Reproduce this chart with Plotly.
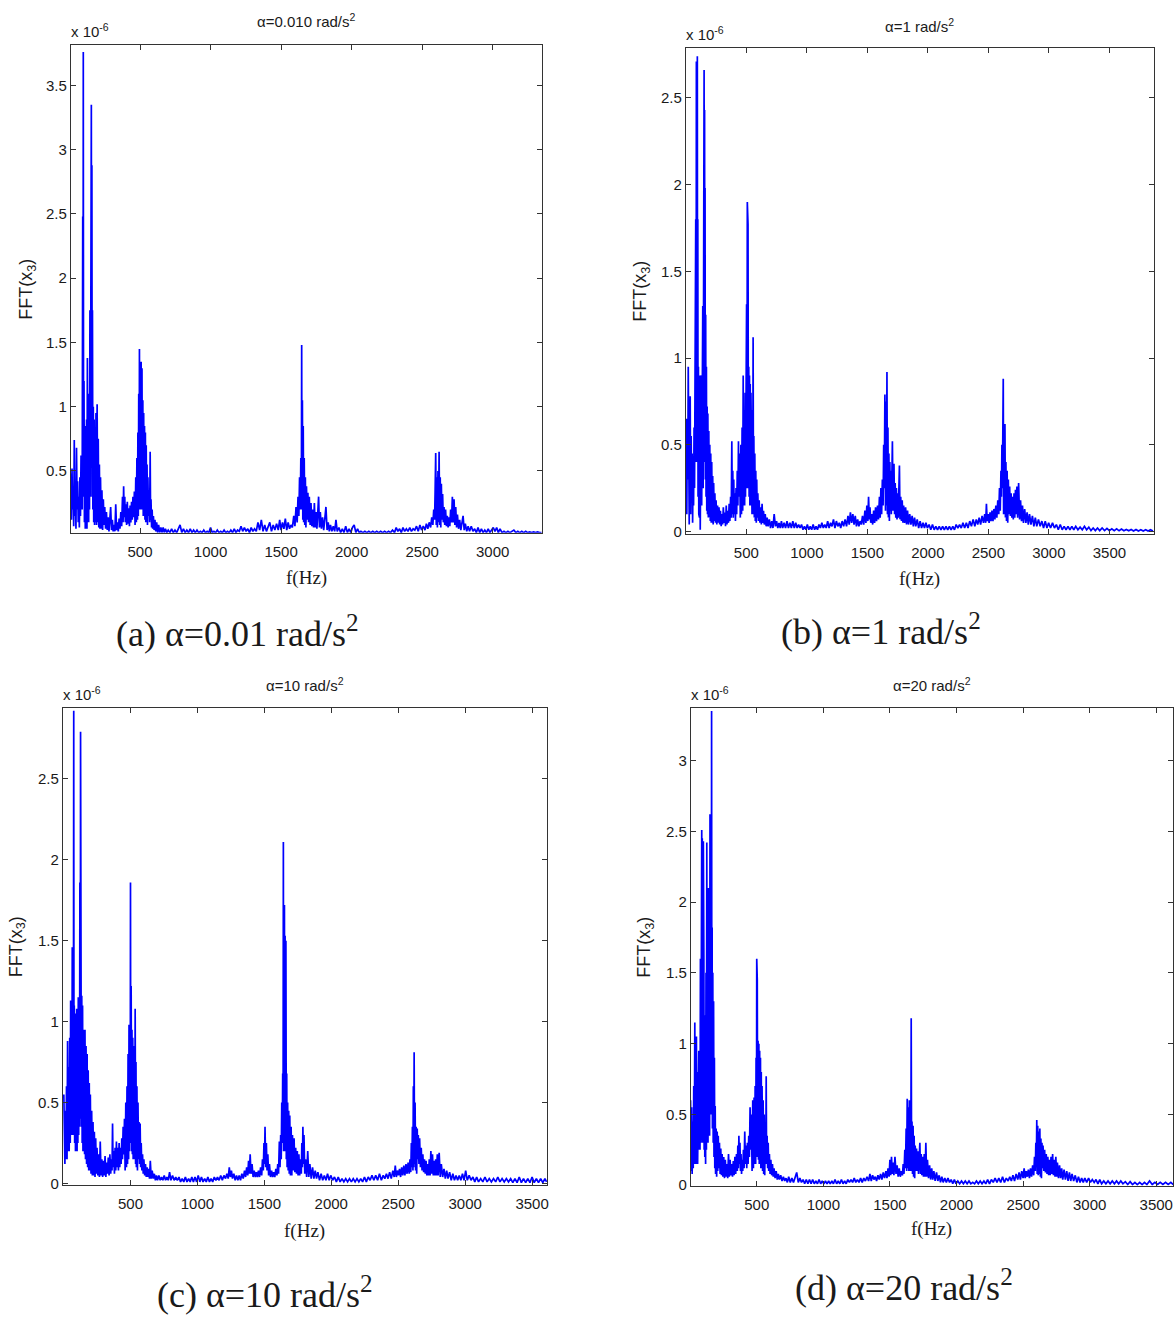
import plotly.graph_objects as go

W, H = 1176, 1324

# ---------------------------------------------------------------
# FFT amplitude spectra of x3 (values in units of 1e-6)
# ---------------------------------------------------------------

# (a) alpha = 0.01 rad/s^2
FREQ_A = [
    10, 14, 18, 22, 26, 30, 34, 38, 42, 46,
    50, 54, 58, 62, 66, 70, 74, 78, 82, 85,
    88, 90, 92, 94, 96, 98, 100, 103, 106, 109,
    112, 115, 118, 121, 124, 127, 130, 133, 136, 139,
    142, 145, 148, 151, 153, 155, 157, 159, 161, 163,
    166, 169, 172, 175, 178, 181, 184, 188, 192, 196,
    200, 204, 208, 212, 216, 220, 225, 230, 235, 240,
    245, 250, 256, 262, 268, 274, 280, 286, 292, 298,
    304, 310, 316, 322, 328, 334, 340, 346, 352, 358,
    364, 370, 376, 380, 384, 388, 392, 396, 400, 405,
    410, 415, 420, 425, 430, 435, 440, 445, 450, 455,
    460, 465, 470, 474, 478, 482, 485, 488, 491, 494,
    496, 499, 502, 505, 508, 511, 514, 517, 520, 523,
    526, 529, 532, 535, 538, 541, 544, 547, 550, 553,
    556, 560, 564, 568, 572, 575, 578, 582, 586, 590,
    595, 600, 606, 612, 618, 625, 632, 640, 648, 656,
    664, 672, 680, 690, 700, 712, 724, 736, 748, 760,
    772, 784, 796, 808, 820, 832, 844, 856, 868, 880,
    892, 904, 916, 928, 940, 952, 964, 976, 988, 1000,
    1012, 1024, 1036, 1048, 1060, 1072, 1084, 1096, 1108, 1120,
    1132, 1144, 1156, 1168, 1180, 1192, 1204, 1216, 1228, 1240,
    1252, 1264, 1276, 1288, 1300, 1312, 1324, 1336, 1348, 1360,
    1372, 1384, 1396, 1408, 1420, 1432, 1444, 1456, 1468, 1480,
    1490, 1500, 1510, 1520, 1530, 1540, 1550, 1560, 1570, 1580,
    1590, 1598, 1606, 1614, 1620, 1626, 1631, 1636, 1640, 1644,
    1646, 1648, 1651, 1654, 1657, 1660, 1664, 1668, 1672, 1676,
    1680, 1685, 1690, 1695, 1700, 1706, 1712, 1718, 1724, 1730,
    1736, 1742, 1748, 1754, 1760, 1766, 1772, 1778, 1786, 1794,
    1802, 1810, 1818, 1826, 1834, 1842, 1850, 1860, 1870, 1880,
    1889, 1898, 1910, 1922, 1934, 1946, 1958, 1970, 1982, 1994,
    2006, 2018, 2030, 2042, 2054, 2066, 2080, 2094, 2108, 2122,
    2136, 2150, 2164, 2178, 2192, 2206, 2220, 2234, 2248, 2262,
    2276, 2290, 2304, 2316, 2328, 2340, 2352, 2364, 2376, 2388,
    2400, 2412, 2424, 2436, 2448, 2460, 2472, 2484, 2496, 2508,
    2520, 2530, 2540, 2550, 2560, 2568, 2576, 2582, 2588, 2592,
    2596, 2600, 2604, 2608, 2612, 2616, 2620, 2624, 2628, 2632,
    2636, 2640, 2645, 2650, 2655, 2660, 2666, 2672, 2678, 2684,
    2690, 2696, 2702, 2708, 2714, 2720, 2726, 2732, 2738, 2744,
    2750, 2758, 2766, 2774, 2782, 2790, 2798, 2806, 2816, 2826,
    2836, 2848, 2860, 2872, 2884, 2896, 2908, 2920, 2932, 2944,
    2956, 2968, 2980, 2992, 3004, 3016, 3028, 3040, 3052, 3066,
    3080, 3094, 3108, 3122, 3136, 3150, 3164, 3178, 3192, 3206,
    3220, 3234, 3248, 3262, 3276, 3290, 3304, 3318, 3332, 3346,
]
FFT_A = [
    0.48, 0.12, 0.52, 0.2, 0.36, 0.07, 0.74, 0.15, 0.32, 0.05,
    0.68, 0.2, 0.42, 0.1, 0.3, 0.06, 0.45, 0.15, 0.62, 0.25,
    1.42, 0.2, 1.75, 2.48, 0.4, 3.76, 0.3, 1.2, 0.1, 0.85,
    0.05, 0.75, 0.1, 0.9, 0.05, 1.38, 0.15, 0.95, 0.1, 1.1,
    0.2, 1.75, 0.3, 2.3, 0.5, 3.35, 0.6, 2.88, 0.3, 1.75,
    0.2, 1.0, 0.1, 0.9, 0.08, 0.8, 0.1, 0.95, 0.08, 1.02,
    0.1, 0.75, 0.06, 0.55, 0.05, 0.45, 0.05, 0.35, 0.04, 0.28,
    0.08, 0.22, 0.05, 0.18, 0.04, 0.14, 0.03, 0.1, 0.22, 0.04,
    0.12, 0.03, 0.08, 0.03, 0.24, 0.04, 0.1, 0.03, 0.13, 0.05,
    0.18, 0.07, 0.3, 0.1, 0.38, 0.14, 0.3, 0.1, 0.24, 0.08,
    0.26, 0.09, 0.21, 0.07, 0.23, 0.1, 0.26, 0.12, 0.3, 0.14,
    0.34, 0.08, 0.45, 0.1, 0.6, 0.12, 0.8, 0.15, 1.1, 0.2,
    1.45, 0.25, 1.05, 0.2, 1.35, 0.3, 1.3, 0.2, 1.05, 0.15,
    0.95, 0.15, 0.85, 0.12, 0.8, 0.1, 0.7, 0.1, 0.55, 0.08,
    0.45, 0.15, 0.35, 0.1, 0.65, 0.12, 0.28, 0.06, 0.2, 0.05,
    0.15, 0.04, 0.12, 0.03, 0.1, 0.02, 0.08, 0.02, 0.06, 0.02,
    0.06, 0.02, 0.05, 0.02, 0.04, 0.02, 0.05, 0.02, 0.04, 0.02,
    0.05, 0.08, 0.02, 0.05, 0.02, 0.04, 0.02, 0.05, 0.02, 0.04,
    0.02, 0.04, 0.02, 0.03, 0.02, 0.04, 0.02, 0.03, 0.02, 0.06,
    0.02, 0.03, 0.02, 0.04, 0.02, 0.03, 0.02, 0.04, 0.02, 0.03,
    0.02, 0.04, 0.02, 0.05, 0.02, 0.04, 0.03, 0.07, 0.03, 0.06,
    0.03, 0.05, 0.02, 0.06, 0.03, 0.05, 0.03, 0.1, 0.04, 0.12,
    0.03, 0.08, 0.03, 0.06, 0.1, 0.03, 0.08, 0.04, 0.09, 0.04,
    0.12, 0.04, 0.1, 0.05, 0.13, 0.04, 0.1, 0.05, 0.08, 0.06,
    0.15, 0.07, 0.22, 0.1, 0.3, 0.15, 0.45, 0.2, 0.6, 0.35,
    1.48, 0.2, 1.05, 0.12, 0.85, 0.1, 0.6, 0.08, 0.45, 0.06,
    0.38, 0.12, 0.33, 0.1, 0.3, 0.08, 0.25, 0.07, 0.2, 0.06,
    0.25, 0.06, 0.18, 0.05, 0.22, 0.3, 0.06, 0.18, 0.05, 0.14,
    0.04, 0.12, 0.22, 0.04, 0.1, 0.03, 0.08, 0.03, 0.07, 0.03,
    0.12, 0.03, 0.06, 0.02, 0.05, 0.02, 0.07, 0.02, 0.05, 0.02,
    0.06, 0.08, 0.02, 0.05, 0.02, 0.03, 0.02, 0.03, 0.02, 0.03,
    0.02, 0.03, 0.02, 0.03, 0.02, 0.03, 0.02, 0.03, 0.02, 0.03,
    0.02, 0.04, 0.02, 0.06, 0.03, 0.05, 0.02, 0.06, 0.03, 0.05,
    0.03, 0.06, 0.03, 0.05, 0.04, 0.07, 0.03, 0.08, 0.04, 0.07,
    0.04, 0.09, 0.05, 0.1, 0.06, 0.14, 0.08, 0.2, 0.12, 0.35,
    0.64, 0.08, 0.45, 0.06, 0.5, 0.1, 0.65, 0.08, 0.45, 0.06,
    0.4, 0.12, 0.32, 0.1, 0.22, 0.08, 0.2, 0.07, 0.15, 0.06,
    0.14, 0.07, 0.2, 0.1, 0.3, 0.1, 0.28, 0.08, 0.22, 0.06,
    0.16, 0.05, 0.12, 0.04, 0.1, 0.15, 0.04, 0.09, 0.03, 0.07,
    0.03, 0.07, 0.03, 0.05, 0.02, 0.06, 0.02, 0.05, 0.02, 0.04,
    0.02, 0.05, 0.02, 0.04, 0.06, 0.03, 0.06, 0.02, 0.05, 0.02,
    0.03, 0.02, 0.03, 0.02, 0.03, 0.04, 0.02, 0.03, 0.02, 0.03,
    0.02, 0.03, 0.02, 0.025, 0.02, 0.025, 0.02, 0.025, 0.02, 0.02,
]

# (b) alpha = 1 rad/s^2
FREQ_B = [
    4, 8, 12, 16, 20, 24, 28, 32, 36, 40,
    44, 48, 52, 56, 60, 64, 68, 72, 76, 79,
    82, 85, 87, 89, 91, 93, 95, 97, 99, 101,
    104, 107, 110, 113, 116, 119, 122, 125, 128, 131,
    134, 137, 140, 143, 146, 149, 151, 153, 155, 157,
    159, 161, 164, 167, 170, 173, 176, 179, 182, 186,
    190, 194, 198, 202, 206, 210, 214, 218, 222, 226,
    230, 235, 240, 245, 250, 256, 262, 268, 274, 280,
    286, 292, 298, 304, 310, 316, 322, 328, 334, 340,
    346, 352, 358, 364, 370, 375, 380, 384, 388, 392,
    396, 400, 405, 410, 415, 420, 425, 430, 435, 440,
    445, 450, 455, 460, 465, 470, 474, 478, 482, 486,
    490, 493, 496, 499, 502, 505, 508, 511, 514, 517,
    520, 523, 526, 529, 532, 535, 538, 541, 544, 547,
    550, 553, 556, 559, 562, 566, 570, 574, 578, 582,
    586, 590, 595, 600, 606, 612, 618, 624, 630, 636,
    642, 648, 656, 664, 672, 680, 690, 700, 710, 720,
    730, 740, 750, 760, 770, 780, 790, 800, 812, 824,
    836, 848, 860, 872, 884, 896, 908, 920, 932, 944,
    956, 968, 980, 992, 1004, 1016, 1028, 1040, 1052, 1064,
    1076, 1088, 1100, 1112, 1124, 1136, 1148, 1160, 1172, 1184,
    1196, 1208, 1220, 1232, 1244, 1256, 1268, 1280, 1292, 1304,
    1316, 1328, 1340, 1350, 1360, 1370, 1380, 1390, 1400, 1410,
    1420, 1430, 1440, 1450, 1460, 1470, 1480, 1488, 1496, 1504,
    1510, 1516, 1522, 1528, 1536, 1544, 1552, 1560, 1568, 1576,
    1584, 1592, 1600, 1606, 1612, 1618, 1624, 1630, 1635, 1640,
    1645, 1650, 1654, 1658, 1662, 1666, 1670, 1674, 1678, 1682,
    1686, 1690, 1694, 1698, 1702, 1707, 1712, 1716, 1720, 1725,
    1730, 1735, 1740, 1745, 1750, 1755, 1760, 1765, 1770, 1776,
    1782, 1788, 1794, 1800, 1808, 1816, 1824, 1832, 1840, 1850,
    1860, 1870, 1880, 1890, 1900, 1912, 1924, 1936, 1948, 1960,
    1972, 1984, 1996, 2010, 2024, 2038, 2052, 2066, 2080, 2094,
    2108, 2122, 2136, 2150, 2164, 2178, 2192, 2206, 2220, 2234,
    2248, 2262, 2276, 2290, 2304, 2318, 2332, 2346, 2360, 2374,
    2388, 2400, 2412, 2424, 2436, 2448, 2460, 2470, 2478, 2484,
    2490, 2498, 2506, 2514, 2522, 2530, 2538, 2546, 2554, 2562,
    2570, 2578, 2586, 2592, 2598, 2604, 2608, 2612, 2616, 2620,
    2623, 2626, 2630, 2634, 2637, 2641, 2645, 2650, 2655, 2660,
    2665, 2670, 2676, 2682, 2688, 2694, 2700, 2706, 2712, 2718,
    2724, 2730, 2736, 2742, 2750, 2758, 2766, 2774, 2782, 2790,
    2800, 2810, 2820, 2830, 2840, 2852, 2864, 2876, 2888, 2900,
    2914, 2928, 2942, 2956, 2970, 2984, 2998, 3014, 3030, 3046,
    3062, 3078, 3094, 3110, 3126, 3142, 3158, 3174, 3190, 3206,
    3222, 3240, 3258, 3276, 3294, 3312, 3330, 3348, 3366, 3384,
    3402, 3420, 3440, 3460, 3480, 3500, 3520, 3540, 3560, 3580,
    3600, 3620, 3640, 3660, 3680, 3700, 3720, 3740, 3760, 3780,
    3800, 3820, 3840, 3860,
]
FFT_B = [
    0.65, 0.1, 0.6, 0.3, 0.95, 0.15, 0.04, 0.5, 0.78, 0.1,
    0.55, 0.2, 0.45, 0.05, 0.35, 0.15, 0.6, 0.25, 0.88, 0.4,
    1.8, 0.4, 2.71, 0.6, 2.62, 0.8, 2.74, 0.4, 1.8, 0.2,
    0.95, 0.1, 0.85, 0.08, 0.9, 0.01, 0.7, 0.1, 0.9, 0.15,
    1.25, 0.2, 1.3, 0.25, 1.8, 0.4, 2.66, 0.5, 2.43, 0.4,
    1.98, 0.3, 1.25, 0.2, 0.95, 0.12, 0.72, 0.1, 0.68, 0.08,
    0.58, 0.08, 0.5, 0.06, 0.45, 0.05, 0.4, 0.05, 0.32, 0.04,
    0.28, 0.06, 0.22, 0.05, 0.18, 0.04, 0.15, 0.05, 0.14, 0.04,
    0.12, 0.03, 0.1, 0.04, 0.14, 0.05, 0.11, 0.03, 0.15, 0.04,
    0.12, 0.05, 0.16, 0.06, 0.2, 0.08, 0.52, 0.1, 0.35, 0.08,
    0.3, 0.1, 0.22, 0.06, 0.25, 0.1, 0.35, 0.15, 0.52, 0.2,
    0.45, 0.08, 0.5, 0.1, 0.6, 0.12, 0.9, 0.15, 0.7, 0.15,
    0.8, 0.2, 0.95, 0.2, 1.31, 0.25, 1.9, 0.3, 1.77, 0.25,
    0.95, 0.2, 0.9, 0.15, 0.85, 0.15, 0.8, 0.12, 0.75, 0.1,
    0.7, 0.1, 1.12, 0.1, 0.55, 0.08, 0.45, 0.06, 0.35, 0.05,
    0.3, 0.08, 0.22, 0.06, 0.18, 0.05, 0.14, 0.04, 0.16, 0.05,
    0.12, 0.04, 0.1, 0.03, 0.08, 0.03, 0.07, 0.02, 0.06, 0.02,
    0.1, 0.03, 0.06, 0.02, 0.05, 0.02, 0.06, 0.02, 0.05, 0.02,
    0.06, 0.02, 0.05, 0.02, 0.06, 0.02, 0.05, 0.02, 0.04, 0.02,
    0.04, 0.01, 0.03, 0.01, 0.04, 0.01, 0.03, 0.01, 0.04, 0.01,
    0.03, 0.01, 0.04, 0.02, 0.05, 0.02, 0.04, 0.02, 0.06, 0.02,
    0.05, 0.03, 0.07, 0.02, 0.06, 0.03, 0.05, 0.02, 0.06, 0.03,
    0.07, 0.03, 0.09, 0.04, 0.11, 0.05, 0.1, 0.04, 0.09, 0.03,
    0.07, 0.03, 0.06, 0.04, 0.09, 0.04, 0.12, 0.05, 0.15, 0.06,
    0.2, 0.07, 0.14, 0.05, 0.1, 0.04, 0.12, 0.05, 0.14, 0.06,
    0.15, 0.07, 0.2, 0.08, 0.25, 0.1, 0.3, 0.15, 0.5, 0.25,
    0.79, 0.12, 0.75, 0.15, 0.92, 0.1, 0.6, 0.08, 0.45, 0.06,
    0.4, 0.12, 0.35, 0.1, 0.3, 0.52, 0.12, 0.28, 0.39, 0.1,
    0.28, 0.08, 0.25, 0.07, 0.22, 0.08, 0.2, 0.38, 0.07, 0.2,
    0.06, 0.18, 0.05, 0.15, 0.05, 0.14, 0.04, 0.12, 0.04, 0.1,
    0.04, 0.09, 0.03, 0.08, 0.03, 0.07, 0.02, 0.06, 0.02, 0.05,
    0.02, 0.05, 0.02, 0.04, 0.01, 0.04, 0.01, 0.03, 0.01, 0.03,
    0.01, 0.03, 0.01, 0.03, 0.01, 0.03, 0.01, 0.03, 0.01, 0.04,
    0.02, 0.04, 0.02, 0.05, 0.02, 0.05, 0.02, 0.06, 0.03, 0.07,
    0.03, 0.07, 0.04, 0.08, 0.04, 0.09, 0.05, 0.1, 0.05, 0.16,
    0.06, 0.1, 0.05, 0.11, 0.06, 0.12, 0.06, 0.13, 0.07, 0.15,
    0.08, 0.18, 0.1, 0.25, 0.12, 0.35, 0.2, 0.5, 0.25, 0.79,
    0.88, 0.1, 0.45, 0.1, 0.62, 0.08, 0.4, 0.06, 0.35, 0.05,
    0.3, 0.1, 0.26, 0.09, 0.22, 0.08, 0.2, 0.07, 0.22, 0.08,
    0.24, 0.1, 0.26, 0.08, 0.28, 0.07, 0.18, 0.06, 0.15, 0.05,
    0.13, 0.05, 0.11, 0.04, 0.1, 0.04, 0.09, 0.03, 0.08, 0.03,
    0.07, 0.03, 0.06, 0.02, 0.06, 0.02, 0.05, 0.02, 0.05, 0.02,
    0.04, 0.01, 0.04, 0.01, 0.03, 0.01, 0.03, 0.01, 0.03, 0.01,
    0.03, 0.01, 0.025, 0.01, 0.03, 0.01, 0.025, 0.005, 0.02, 0.005,
    0.02, 0.005, 0.02, 0.005, 0.018, 0.005, 0.015, 0.005, 0.015, 0.004,
    0.014, 0.004, 0.012, 0.004, 0.012, 0.003, 0.012, 0.003, 0.01, 0.003,
    0.01, 0.003, 0.01, 0.003,
]

# (c) alpha = 10 rad/s^2
FREQ_C = [
    2, 6, 10, 14, 18, 22, 26, 30, 34, 38,
    42, 46, 50, 53, 56, 59, 62, 65, 68, 70,
    72, 74, 76, 78, 80, 83, 86, 89, 92, 95,
    98, 101, 104, 107, 110, 113, 116, 119, 122, 125,
    127, 129, 131, 133, 136, 139, 142, 145, 148, 151,
    154, 157, 160, 164, 168, 172, 176, 180, 184, 188,
    192, 196, 200, 205, 210, 215, 220, 225, 230, 235,
    240, 245, 250, 256, 262, 268, 274, 280, 286, 292,
    298, 304, 310, 316, 322, 328, 334, 340, 346, 352,
    358, 362, 366, 370, 375, 380, 385, 390, 395, 400,
    405, 410, 415, 420, 425, 430, 435, 440, 445, 450,
    455, 460, 465, 470, 474, 478, 482, 486, 489, 492,
    495, 498, 500, 502, 505, 508, 511, 514, 517, 520,
    523, 526, 529, 532, 535, 538, 541, 544, 548, 552,
    556, 560, 564, 568, 572, 576, 580, 585, 590, 595,
    600, 606, 612, 618, 624, 630, 636, 642, 648, 655,
    662, 670, 678, 686, 694, 702, 712, 722, 732, 742,
    752, 762, 772, 782, 792, 802, 814, 826, 838, 850,
    862, 874, 886, 898, 910, 922, 934, 946, 958, 970,
    982, 994, 1006, 1018, 1030, 1042, 1054, 1066, 1078, 1090,
    1102, 1114, 1126, 1138, 1150, 1162, 1174, 1186, 1198, 1210,
    1220, 1230, 1238, 1246, 1254, 1262, 1272, 1282, 1292, 1302,
    1312, 1322, 1332, 1342, 1352, 1360, 1368, 1376, 1382, 1388,
    1394, 1400, 1408, 1416, 1424, 1432, 1440, 1448, 1456, 1464,
    1472, 1480, 1486, 1492, 1497, 1501, 1505, 1510, 1515, 1520,
    1526, 1532, 1538, 1546, 1554, 1562, 1570, 1578, 1586, 1594,
    1600, 1606, 1612, 1617, 1622, 1626, 1630, 1634, 1637, 1640,
    1642, 1644, 1646, 1648, 1650, 1652, 1655, 1658, 1661, 1664,
    1667, 1670, 1674, 1678, 1682, 1686, 1690, 1695, 1700, 1705,
    1710, 1716, 1722, 1728, 1734, 1740, 1746, 1752, 1758, 1764,
    1770, 1776, 1780, 1784, 1788, 1792, 1796, 1802, 1808, 1816,
    1824, 1832, 1840, 1850, 1860, 1870, 1880, 1890, 1900, 1912,
    1924, 1936, 1948, 1960, 1972, 1984, 1996, 2010, 2024, 2038,
    2052, 2066, 2080, 2094, 2108, 2122, 2136, 2150, 2164, 2178,
    2192, 2206, 2220, 2234, 2248, 2262, 2276, 2290, 2304, 2318,
    2332, 2346, 2360, 2374, 2388, 2400, 2412, 2424, 2436, 2448,
    2460, 2470, 2478, 2486, 2494, 2502, 2510, 2518, 2526, 2534,
    2542, 2550, 2558, 2566, 2574, 2582, 2588, 2594, 2598, 2602,
    2606, 2610, 2613, 2616, 2619, 2622, 2626, 2630, 2634, 2638,
    2642, 2646, 2650, 2655, 2660, 2666, 2672, 2678, 2684, 2690,
    2696, 2702, 2708, 2714, 2720, 2726, 2732, 2738, 2744, 2750,
    2756, 2762, 2768, 2774, 2780, 2786, 2792, 2798, 2806, 2814,
    2822, 2832, 2842, 2852, 2862, 2872, 2884, 2896, 2908, 2920,
    2932, 2944, 2956, 2968, 2980, 2992, 3004, 3016, 3030, 3044,
    3058, 3072, 3086, 3100, 3116, 3132, 3148, 3164, 3180, 3196,
    3212, 3228, 3244, 3260, 3276, 3292, 3308, 3324, 3340, 3356,
    3372, 3388, 3404, 3420, 3436, 3452, 3468, 3484, 3500, 3516,
    3532, 3548, 3564, 3580, 3596, 3608,
]
FFT_C = [
    0.55, 0.15, 0.12, 0.45, 0.15, 0.6, 0.15, 0.88, 0.2, 0.72,
    0.2, 0.9, 0.25, 1.13, 0.3, 1.05, 0.3, 1.46, 0.35, 1.1,
    0.3, 1.05, 2.92, 0.4, 1.1, 0.25, 1.05, 0.2, 0.95, 0.25,
    1.08, 0.2, 1.0, 0.25, 1.15, 0.3, 1.1, 0.35, 1.86, 0.4,
    2.79, 0.45, 2.58, 0.35, 1.16, 0.25, 1.1, 0.2, 0.95, 0.2,
    0.9, 0.18, 0.95, 0.15, 0.85, 0.12, 0.8, 0.1, 0.7, 0.08,
    0.62, 0.08, 0.55, 0.06, 0.45, 0.05, 0.38, 0.05, 0.32, 0.04,
    0.28, 0.06, 0.22, 0.05, 0.18, 0.04, 0.26, 0.05, 0.15, 0.04,
    0.14, 0.05, 0.17, 0.04, 0.13, 0.06, 0.16, 0.05, 0.18, 0.06,
    0.15, 0.08, 0.37, 0.1, 0.2, 0.06, 0.22, 0.08, 0.26, 0.1,
    0.22, 0.08, 0.25, 0.1, 0.22, 0.12, 0.28, 0.15, 0.35, 0.18,
    0.4, 0.08, 0.5, 0.1, 0.6, 0.12, 0.8, 0.15, 0.98, 0.2,
    0.95, 0.25, 1.86, 0.3, 1.22, 0.2, 0.95, 0.18, 0.9, 0.15,
    0.85, 0.15, 0.8, 0.15, 1.08, 0.12, 0.75, 0.1, 0.6, 0.08,
    0.5, 0.15, 0.38, 0.12, 0.37, 0.1, 0.25, 0.08, 0.18, 0.06,
    0.15, 0.05, 0.12, 0.04, 0.1, 0.04, 0.09, 0.03, 0.14, 0.03,
    0.08, 0.03, 0.06, 0.02, 0.05, 0.02, 0.05, 0.02, 0.04, 0.02,
    0.05, 0.02, 0.04, 0.02, 0.07, 0.02, 0.05, 0.02, 0.04, 0.02,
    0.04, 0.01, 0.03, 0.01, 0.04, 0.01, 0.03, 0.01, 0.04, 0.01,
    0.04, 0.01, 0.05, 0.01, 0.04, 0.01, 0.03, 0.01, 0.04, 0.01,
    0.03, 0.01, 0.04, 0.02, 0.04, 0.02, 0.05, 0.02, 0.05, 0.03,
    0.06, 0.03, 0.1, 0.04, 0.08, 0.03, 0.06, 0.02, 0.05, 0.02,
    0.05, 0.02, 0.06, 0.03, 0.08, 0.04, 0.1, 0.05, 0.14, 0.06,
    0.18, 0.06, 0.12, 0.04, 0.08, 0.04, 0.07, 0.04, 0.08, 0.04,
    0.1, 0.05, 0.15, 0.08, 0.25, 0.12, 0.35, 0.1, 0.25, 0.08,
    0.18, 0.05, 0.12, 0.04, 0.08, 0.04, 0.07, 0.04, 0.09, 0.05,
    0.12, 0.06, 0.26, 0.1, 0.3, 0.15, 0.5, 0.25, 0.68, 0.4,
    2.11, 0.2, 1.53, 0.25, 1.72, 0.2, 1.53, 0.2, 1.5, 0.15,
    0.68, 0.1, 0.5, 0.08, 0.45, 0.06, 0.42, 0.05, 0.35, 0.05,
    0.3, 0.08, 0.28, 0.07, 0.22, 0.06, 0.2, 0.05, 0.18, 0.05,
    0.15, 0.06, 0.25, 0.1, 0.35, 0.12, 0.3, 0.06, 0.15, 0.04,
    0.2, 0.04, 0.12, 0.03, 0.1, 0.03, 0.08, 0.03, 0.07, 0.02,
    0.06, 0.02, 0.05, 0.02, 0.06, 0.02, 0.05, 0.02, 0.04, 0.01,
    0.04, 0.01, 0.03, 0.01, 0.03, 0.01, 0.03, 0.01, 0.03, 0.01,
    0.03, 0.01, 0.03, 0.01, 0.04, 0.01, 0.04, 0.02, 0.05, 0.02,
    0.05, 0.02, 0.06, 0.02, 0.05, 0.03, 0.06, 0.03, 0.07, 0.03,
    0.08, 0.04, 0.11, 0.04, 0.08, 0.05, 0.09, 0.04, 0.1, 0.05,
    0.11, 0.05, 0.12, 0.06, 0.13, 0.06, 0.15, 0.07, 0.25, 0.1,
    0.35, 0.08, 0.6, 0.1, 0.81, 0.12, 0.5, 0.08, 0.35, 0.06,
    0.34, 0.15, 0.3, 0.12, 0.28, 0.1, 0.22, 0.08, 0.18, 0.07,
    0.15, 0.06, 0.14, 0.05, 0.12, 0.05, 0.15, 0.05, 0.2, 0.06,
    0.18, 0.05, 0.14, 0.05, 0.15, 0.05, 0.18, 0.05, 0.19, 0.04,
    0.12, 0.04, 0.09, 0.03, 0.08, 0.03, 0.07, 0.02, 0.06, 0.02,
    0.05, 0.02, 0.05, 0.02, 0.06, 0.02, 0.08, 0.02, 0.05, 0.02,
    0.04, 0.01, 0.04, 0.01, 0.03, 0.01, 0.04, 0.01, 0.03, 0.01,
    0.03, 0.01, 0.04, 0.01, 0.03, 0.01, 0.03, 0.01, 0.03, 0.005,
    0.03, 0.005, 0.04, 0.005, 0.03, 0.005, 0.03, 0.005, 0.04, 0.005,
    0.03, 0.005, 0.03, 0.005, 0.03, 0.01,
]

# (d) alpha = 20 rad/s^2
FREQ_D = [
    3, 7, 11, 15, 19, 23, 27, 31, 35, 38,
    41, 44, 47, 50, 53, 56, 59, 62, 65, 68,
    71, 74, 77, 80, 83, 85, 87, 89, 91, 93,
    95, 97, 99, 101, 103, 105, 107, 110, 113, 116,
    119, 122, 125, 128, 131, 134, 137, 140, 143, 146,
    149, 151, 153, 155, 157, 159, 161, 163, 165, 167,
    170, 173, 176, 179, 182, 185, 188, 191, 195, 199,
    203, 207, 211, 215, 220, 225, 230, 235, 240, 246,
    252, 258, 264, 270, 276, 282, 288, 294, 300, 306,
    312, 318, 324, 330, 336, 342, 348, 354, 358, 362,
    366, 370, 374, 378, 382, 386, 390, 395, 400, 405,
    410, 415, 420, 425, 430, 435, 440, 445, 450, 455,
    460, 465, 470, 475, 480, 484, 488, 492, 495, 498,
    500, 502, 504, 507, 510, 513, 516, 519, 522, 525,
    528, 531, 534, 537, 540, 544, 548, 552, 556, 560,
    564, 568, 571, 574, 578, 582, 586, 590, 595, 600,
    606, 612, 618, 624, 630, 638, 646, 654, 662, 670,
    680, 690, 700, 710, 720, 730, 740, 752, 764, 776,
    788, 800, 812, 824, 836, 848, 860, 872, 884, 896,
    908, 920, 932, 944, 956, 968, 980, 992, 1004, 1016,
    1028, 1040, 1052, 1064, 1076, 1088, 1100, 1112, 1124, 1136,
    1148, 1160, 1172, 1184, 1196, 1208, 1220, 1232, 1244, 1256,
    1268, 1280, 1292, 1304, 1316, 1328, 1340, 1350, 1360, 1370,
    1380, 1390, 1400, 1410, 1420, 1430, 1440, 1450, 1460, 1470,
    1478, 1486, 1494, 1500, 1506, 1512, 1518, 1524, 1530, 1538,
    1546, 1554, 1562, 1570, 1578, 1586, 1594, 1600, 1606, 1612,
    1617, 1622, 1626, 1630, 1634, 1638, 1642, 1646, 1650, 1654,
    1657, 1660, 1663, 1666, 1670, 1674, 1678, 1682, 1686, 1690,
    1695, 1700, 1705, 1710, 1715, 1720, 1725, 1730, 1735, 1740,
    1746, 1752, 1758, 1764, 1770, 1776, 1782, 1790, 1798, 1806,
    1814, 1822, 1830, 1840, 1850, 1860, 1870, 1880, 1890, 1900,
    1912, 1924, 1936, 1948, 1960, 1972, 1984, 1996, 2010, 2024,
    2038, 2052, 2066, 2080, 2094, 2108, 2122, 2136, 2150, 2164,
    2178, 2192, 2206, 2220, 2234, 2248, 2262, 2276, 2290, 2304,
    2318, 2332, 2346, 2360, 2374, 2388, 2400, 2412, 2424, 2436,
    2448, 2460, 2470, 2480, 2490, 2500, 2508, 2516, 2524, 2532,
    2540, 2548, 2556, 2564, 2572, 2580, 2586, 2592, 2596, 2600,
    2603, 2606, 2610, 2614, 2618, 2622, 2626, 2630, 2634, 2638,
    2642, 2646, 2650, 2656, 2662, 2668, 2674, 2680, 2686, 2692,
    2698, 2704, 2710, 2716, 2722, 2728, 2734, 2740, 2746, 2752,
    2758, 2766, 2774, 2782, 2790, 2798, 2808, 2818, 2828, 2838,
    2848, 2858, 2868, 2880, 2892, 2904, 2916, 2928, 2940, 2952,
    2964, 2978, 2992, 3006, 3020, 3034, 3048, 3062, 3076, 3090,
    3106, 3122, 3138, 3154, 3170, 3186, 3202, 3218, 3234, 3250,
    3268, 3286, 3304, 3322, 3340, 3358, 3376, 3394, 3412, 3430,
    3450, 3470, 3490, 3510, 3530, 3550, 3570, 3590, 3610, 3628,
]
FFT_D = [
    0.6, 0.1, 0.55, 0.08, 0.45, 0.12, 0.7, 0.15, 1.15, 0.2,
    0.85, 0.15, 1.05, 0.2, 0.8, 0.15, 0.75, 0.25, 0.95, 0.25,
    0.8, 0.25, 1.6, 0.3, 2.4, 0.5, 2.51, 0.6, 2.45, 0.3,
    1.8, 0.35, 2.43, 0.4, 1.6, 0.25, 1.2, 0.2, 1.05, 0.15,
    1.5, 0.25, 2.42, 0.4, 1.8, 0.3, 2.1, 0.35, 1.6, 0.35,
    2.62, 0.5, 2.4, 0.6, 2.63, 0.5, 3.35, 0.6, 1.82, 0.4,
    1.5, 0.3, 1.3, 0.2, 0.9, 0.12, 0.56, 0.08, 0.4, 0.06,
    0.38, 0.1, 0.35, 0.12, 0.3, 0.08, 0.26, 0.07, 0.22, 0.06,
    0.2, 0.05, 0.18, 0.06, 0.15, 0.05, 0.22, 0.06, 0.18, 0.07,
    0.15, 0.06, 0.17, 0.07, 0.2, 0.08, 0.22, 0.1, 0.28, 0.12,
    0.35, 0.15, 0.3, 0.1, 0.22, 0.08, 0.18, 0.1, 0.25, 0.12,
    0.38, 0.15, 0.28, 0.12, 0.3, 0.15, 0.35, 0.2, 0.55, 0.25,
    0.5, 0.1, 0.6, 0.12, 0.62, 0.15, 0.7, 0.15, 0.9, 0.2,
    1.6, 0.25, 1.45, 0.2, 1.02, 0.18, 1.0, 0.15, 0.95, 0.15,
    0.9, 0.12, 0.8, 0.12, 0.7, 0.1, 0.6, 0.08, 0.5, 0.07,
    0.4, 0.15, 0.77, 0.15, 0.35, 0.12, 0.3, 0.1, 0.22, 0.08,
    0.18, 0.07, 0.15, 0.06, 0.12, 0.05, 0.1, 0.04, 0.08, 0.04,
    0.07, 0.03, 0.06, 0.03, 0.05, 0.02, 0.06, 0.02, 0.05, 0.02,
    0.05, 0.09, 0.02, 0.05, 0.02, 0.04, 0.01, 0.04, 0.01, 0.04,
    0.01, 0.04, 0.01, 0.03, 0.01, 0.04, 0.01, 0.03, 0.01, 0.03,
    0.01, 0.03, 0.01, 0.03, 0.01, 0.04, 0.01, 0.03, 0.01, 0.04,
    0.01, 0.03, 0.01, 0.04, 0.02, 0.04, 0.02, 0.05, 0.02, 0.04,
    0.02, 0.05, 0.02, 0.05, 0.03, 0.06, 0.03, 0.08, 0.03, 0.07,
    0.04, 0.06, 0.03, 0.07, 0.04, 0.08, 0.04, 0.09, 0.05, 0.1,
    0.05, 0.12, 0.06, 0.18, 0.07, 0.2, 0.08, 0.16, 0.07, 0.2,
    0.08, 0.14, 0.06, 0.12, 0.06, 0.1, 0.07, 0.15, 0.08, 0.25,
    0.12, 0.4, 0.1, 0.61, 0.12, 0.55, 0.1, 0.6, 0.1, 0.5,
    0.1, 1.18, 0.1, 0.45, 0.08, 0.42, 0.06, 0.35, 0.05, 0.28,
    0.1, 0.26, 0.1, 0.24, 0.08, 0.27, 0.3, 0.08, 0.22, 0.07,
    0.2, 0.06, 0.22, 0.06, 0.3, 0.06, 0.18, 0.05, 0.14, 0.04,
    0.12, 0.04, 0.1, 0.03, 0.09, 0.03, 0.07, 0.02, 0.06, 0.02,
    0.05, 0.02, 0.05, 0.02, 0.04, 0.01, 0.04, 0.01, 0.03, 0.01,
    0.03, 0.01, 0.03, 0.01, 0.03, 0.01, 0.02, 0.01, 0.03, 0.01,
    0.03, 0.01, 0.03, 0.01, 0.04, 0.01, 0.04, 0.02, 0.05, 0.02,
    0.05, 0.02, 0.06, 0.02, 0.05, 0.03, 0.06, 0.03, 0.07, 0.03,
    0.08, 0.04, 0.09, 0.04, 0.1, 0.05, 0.12, 0.05, 0.1, 0.06,
    0.11, 0.05, 0.12, 0.06, 0.14, 0.07, 0.2, 0.1, 0.3, 0.15,
    0.46, 0.08, 0.42, 0.07, 0.38, 0.08, 0.4, 0.06, 0.33, 0.05,
    0.3, 0.12, 0.28, 0.1, 0.25, 0.09, 0.22, 0.08, 0.2, 0.07,
    0.18, 0.07, 0.2, 0.08, 0.22, 0.07, 0.18, 0.06, 0.2, 0.06,
    0.16, 0.05, 0.14, 0.05, 0.12, 0.04, 0.11, 0.04, 0.1, 0.03,
    0.09, 0.03, 0.08, 0.03, 0.07, 0.02, 0.06, 0.02, 0.05, 0.02,
    0.05, 0.02, 0.05, 0.02, 0.04, 0.02, 0.04, 0.01, 0.04, 0.01,
    0.03, 0.01, 0.03, 0.01, 0.03, 0.01, 0.03, 0.01, 0.03, 0.01,
    0.025, 0.005, 0.025, 0.005, 0.02, 0.005, 0.02, 0.005, 0.02, 0.005,
    0.03, 0.005, 0.02, 0.005, 0.02, 0.005, 0.02, 0.005, 0.02, 0.005,
]

# Tick values for each panel
X_TICKS_A = [500, 1000, 1500, 2000, 2500, 3000]
X_TICKS_BCD = [500, 1000, 1500, 2000, 2500, 3000, 3500]
Y_TICKS_A = [0.5, 1, 1.5, 2, 2.5, 3, 3.5]
Y_TICKS_B = [0, 0.5, 1, 1.5, 2, 2.5]
Y_TICKS_C = [0, 0.5, 1, 1.5, 2, 2.5]
Y_TICKS_D = [0, 0.5, 1, 1.5, 2, 2.5, 3]

TITLES = ["α=0.010 rad/s<sup>2</sup>", "α=1 rad/s<sup>2</sup>",
          "α=10 rad/s<sup>2</sup>", "α=20 rad/s<sup>2</sup>"]
CAPTIONS = ["(a) α=0.01 rad/s<sup>2</sup>", "(b) α=1 rad/s<sup>2</sup>",
            "(c) α=10 rad/s<sup>2</sup>", "(d) α=20 rad/s<sup>2</sup>"]

# ---------------------------------------------------------------
# Layout of the four panels (pixel boxes: left, right, top, bottom)
# ---------------------------------------------------------------
panels = [
    dict(f=FREQ_A, a=FFT_A, box=(71, 543, 45, 536), xr=[10, 3350], yr=[0.019, 3.817],
         xt=X_TICKS_A, yt=Y_TICKS_A, title_y=21, cap=(238, 635), xlab_y=582, ylab_x=28),
    dict(f=FREQ_B, a=FFT_B, box=(687, 1156, 48, 537), xr=[0, 3869], yr=[-0.013, 2.789],
         xt=X_TICKS_BCD, yt=Y_TICKS_B, title_y=26, cap=(882, 633), xlab_y=583, ylab_x=643),
    dict(f=FREQ_C, a=FFT_C, box=(63, 548, 712, 1192), xr=[-5, 3612], yr=[-0.008, 2.939],
         xt=X_TICKS_BCD, yt=Y_TICKS_C, title_y=689, cap=(265, 1300), xlab_y=1238, ylab_x=17),
    dict(f=FREQ_D, a=FFT_D, box=(692, 1175, 712, 1193), xr=[5, 3626], yr=[-0.004, 3.373],
         xt=X_TICKS_BCD, yt=Y_TICKS_D, title_y=689, cap=(906, 1293), xlab_y=1236, ylab_x=647),
]

SANS = "Liberation Sans, Arial, sans-serif"
SERIF = "Liberation Serif, Times New Roman, serif"
INK = "#1a1a1a"


def ann(text, x, y, size, family, xanchor="center", yanchor="middle", angle=0):
    return dict(text=text, x=x / W, y=1 - y / H, xref="paper", yref="paper",
                showarrow=False, xanchor=xanchor, yanchor=yanchor, textangle=angle,
                font=dict(size=size, family=family, color=INK))


fig = go.Figure()
layout = dict(width=W, height=H, margin=dict(l=0, r=0, t=0, b=0),
              paper_bgcolor="white", plot_bgcolor="white", showlegend=False)
annotations = []

for i, p in enumerate(panels):
    k = "" if i == 0 else str(i + 1)
    left, right, top, bottom = p["box"]
    fig.add_trace(go.Scatter(x=p["f"], y=p["a"], mode="lines",
                             line=dict(color="#0000ff", width=1.7),
                             xaxis="x" + k, yaxis="y" + k, hoverinfo="skip"))
    axis_common = dict(showline=True, linecolor="#333333", linewidth=1, mirror="ticks",
                       ticks="inside", ticklen=5, tickcolor="#333333", showgrid=False,
                       zeroline=False, tickfont=dict(family=SANS, size=15, color=INK))
    layout["xaxis" + k] = dict(axis_common, domain=[left / W, right / W],
                               anchor="y" + k, range=p["xr"], ticklabelstandoff=5,
                               tickvals=p["xt"], ticktext=[f"{v:g}" for v in p["xt"]])
    layout["yaxis" + k] = dict(axis_common, domain=[1 - bottom / H, 1 - top / H],
                               anchor="x" + k, range=p["yr"],
                               tickvals=p["yt"], ticktext=[f"{v:g}" for v in p["yt"]])
    cx = (left + right) / 2
    annotations.append(ann(TITLES[i], cx, p["title_y"], 15, SANS))
    annotations.append(ann("x 10<sup>-6</sup>", left - 2, top - 3, 15, SANS,
                           xanchor="left", yanchor="bottom"))
    annotations.append(ann("FFT(x<sub>3</sub>)", p["ylab_x"], (top + bottom) / 2, 18, SANS,
                           angle=-90))
    annotations.append(ann("f(Hz)", cx, p["xlab_y"], 19, SERIF))
    annotations.append(ann(CAPTIONS[i], p["cap"][0], p["cap"][1], 36, SERIF))

layout["annotations"] = annotations
fig.update_layout(**layout)
fig.write_html("out.html")
